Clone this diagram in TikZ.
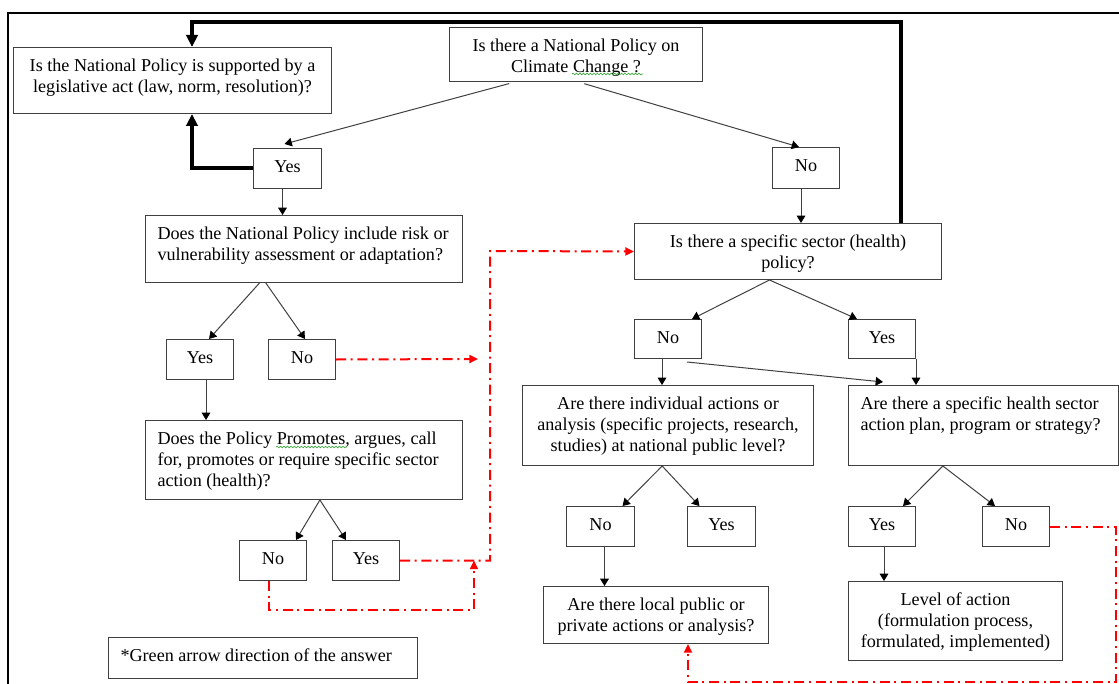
\documentclass[tikz,border=0pt]{standalone}
\usepackage{fontspec}
\setmainfont{Liberation Serif}
\usetikzlibrary{arrows.meta,calc,decorations.pathmorphing}

% text inside a box: width and height in px, first baseline at a fixed inset
\newcommand{\qcell}[4]{\parbox[c][\dimexpr#2pt*3/4\relax][t]{\dimexpr#1pt*3/4-12pt\relax}{#3\rule{0pt}{18pt}#4}}
\newcommand{\qleft}{\raggedright\leftskip=3pt\relax}

\definecolor{boxgray}{RGB}{64,64,64}
\definecolor{spellgreen}{RGB}{60,170,60}

\tikzset{every picture/.style={line width=0.75pt}}
\tikzset{
  qbox/.style={draw=boxgray, line width=0.75pt, anchor=north west, inner xsep=6pt, inner ysep=0pt,
    font=\fontsize{13.6}{15.75}\selectfont},
  link/.style={draw=boxgray, line width=0.75pt, -{Triangle[length=5.5pt,width=6.5pt,color=black]}},
  heavy/.style={draw=black, line width=3pt, -{Triangle[length=9pt,width=8.5pt]}},
  answer/.style={draw=red, line width=1.5pt, dash pattern=on 7.5pt off 3.5pt on 1.5pt off 3.5pt,
    -{Triangle[length=6.5pt,width=6pt]}},
  spell/.style={draw=spellgreen, line width=0.5pt, decorate, decoration={snake, amplitude=0.6pt, segment length=2.6pt}}
}

\begin{document}
\begin{tikzpicture}[x=0.75pt,y=0.75pt,yscale=-1,xscale=1]
\useasboundingbox (0,0) rectangle (1119,684);

%Frame
\draw[line width=1.5pt] (1119,13) -- (8,13) -- (8,684);

% Text Node
\node[qbox] (b0) at (449,27) {\qcell{253}{54}{\centering}{Is there a National Policy on\\Climate Change ?}};
% Text Node
\node[qbox] (b1) at (13,47) {\qcell{318}{66}{\centering}{Is the National Policy is supported by a\\legislative act (law, norm, resolution)?}};
% Text Node
\node[qbox] (yes1) at (253,148) {\qcell{68}{40}{\centering}{Yes}};
% Text Node
\node[qbox] (no1) at (772,147) {\qcell{67}{41}{\centering}{No}};
% Text Node
\node[qbox] (b2) at (145,215) {\qcell{317}{67}{\qleft}{Does the National Policy include risk or\\vulnerability assessment or adaptation?}};
% Text Node
\node[qbox] (sector) at (634,223) {\qcell{307}{56}{\centering}{Is there a specific sector (health)\\policy?}};
% Text Node
\node[qbox] (yes2) at (166,339) {\qcell{67}{40}{\centering}{Yes}};
% Text Node
\node[qbox] (no2) at (268,339) {\qcell{67}{40}{\centering}{No}};
% Text Node
\node[qbox] (no3) at (634,319) {\qcell{67}{39}{\centering}{No}};
% Text Node
\node[qbox] (yes3) at (848,319) {\qcell{67}{39}{\centering}{Yes}};
% Text Node
\node[qbox] (b3) at (145,420) {\qcell{317}{79}{\qleft}{Does the Policy Promotes, argues, call\\for, promotes or require specific sector\\action (health)?}};
% Text Node
\node[qbox] (b4) at (522,385) {\qcell{291}{80}{\centering}{Are there individual actions or\\analysis (specific projects, research,\\studies) at national public level?}};
% Text Node
\node[qbox] (b5) at (848,385) {\qcell{270}{80}{\qleft}{Are there a specific health sector\\action plan, program or strategy?}};
% Text Node
\node[qbox] (no5) at (566,506) {\qcell{68}{40}{\centering}{No}};
% Text Node
\node[qbox] (yes5) at (687,506) {\qcell{68}{40}{\centering}{Yes}};
% Text Node
\node[qbox] (yes6) at (848,506) {\qcell{67}{40}{\centering}{Yes}};
% Text Node
\node[qbox] (no6) at (982,506) {\qcell{67}{40}{\centering}{No}};
% Text Node
\node[qbox] (no4) at (239,540) {\qcell{67}{40}{\centering}{No}};
% Text Node
\node[qbox] (yes4) at (332,540) {\qcell{67}{40}{\centering}{Yes}};
% Text Node
\node[qbox] (b6) at (543,586) {\qcell{225}{57}{\centering}{Are there local public or\\private actions or analysis?}};
% Text Node
\node[qbox] (b7) at (848,581) {\qcell{214}{79}{\centering}{Level of action\\(formulation process,\\formulated, implemented)}};
% Text Node
\node[qbox] (legend) at (108,637) {\qcell{309}{41}{\qleft}{*Green arrow direction of the answer}};

%Spelling marks
\draw[spell] (572,74) -- (643,74);
\draw[spell] (276,447) -- (347,447);

%Straight Lines
\draw[link, shorten <=4.5pt] ($(b0.south west)!0.26!(b0.south east)$) -- ($(yes1.north)+(-3,-4)$);
\draw[link, shorten <=4.5pt] ($(b0.south west)!0.51!(b0.south east)$) -- ($(no1.north)+(-7,0)$);
\draw[link] ($(no1.south)+(-5,0)$) coordinate (p) -- (p |- sector.north);
\draw[link] ($(yes1.south)+(-5,0)$) coordinate (p) -- (p |- b2.north);

%Thick Lines
\coordinate (tr) at (901,22);
\coordinate (tl) at (192,22);
\draw[heavy] (tr |- sector.north) -- (tr) -- (tl) -- (tl |- b1.north);
\draw[heavy] (yes1.west) -| (tl |- b1.south);

%Straight Lines
\draw[link] ($(b2.south west)!0.36!(b2.south east)$) -- ($(yes2.north)+(9,0)$);
\draw[link] ($(b2.south west)!0.38!(b2.south east)$) -- ($(no2.north)+(3,0)$);
\draw[link] ($(yes2.south)+(6,0)$) coordinate (p) -- (p |- b3.north);
\draw[link] ($(b3.south west)!0.55!(b3.south east)$) -- ($(no4.north)+(23,0)$);
\draw[link] ($(b3.south west)!0.55!(b3.south east)$) -- ($(yes4.north)+(-20,0)$);

\draw[link] ($(sector.south west)!0.44!(sector.south east)$) -- ($(no3.north)+(24,0)$);
\draw[link] ($(sector.south west)!0.44!(sector.south east)$) -- ($(yes3.north)+(-25,0)$);
\draw[link] ($(no3.south)+(-6,0)$) coordinate (p) -- (p |- b4.north);
\draw[link] ($(no3.south)+(19,3)$) -- ($(b5.north west)+(35,-3)$);
\draw[link] (yes3.south east) -- (yes3.south east |- b5.north);

\draw[link] ($(b4.south west)!0.48!(b4.south east)$) -- ($(no5.north)+(22,0)$);
\draw[link] ($(b4.south west)!0.48!(b4.south east)$) -- ($(yes5.north)+(-22,0)$);
\draw[link] ($(no5.south)+(4,0)$) coordinate (p) -- (p |- b6.north);

\draw[link] ($(b5.south west)!0.35!(b5.south east)$) -- ($(yes6.north)+(21,0)$);
\draw[link] ($(b5.south west)!0.35!(b5.south east)$) -- ($(no6.north)+(-21,0)$);
\draw[link] ($(yes6.south)+(2,0)$) coordinate (p) -- (p |- b7.north);

%Red answer lines
\coordinate (r1) at (478,359);
\coordinate (rv) at (490,251);
\coordinate (r3) at (474,610);
\coordinate (r4) at (1116,682);
\draw[answer] (no2.east) -- (r1);
\draw[answer] (yes4.east) -| (rv) -- (sector.west);
\draw[answer] ($(no4.south)+(-4,0)$) |- (r3) -- (r3 |- yes4.east);
\draw[answer] (no6.east) -| (r4) -| ($(b6.south)+(32,0)$);

\end{tikzpicture}
\end{document}
